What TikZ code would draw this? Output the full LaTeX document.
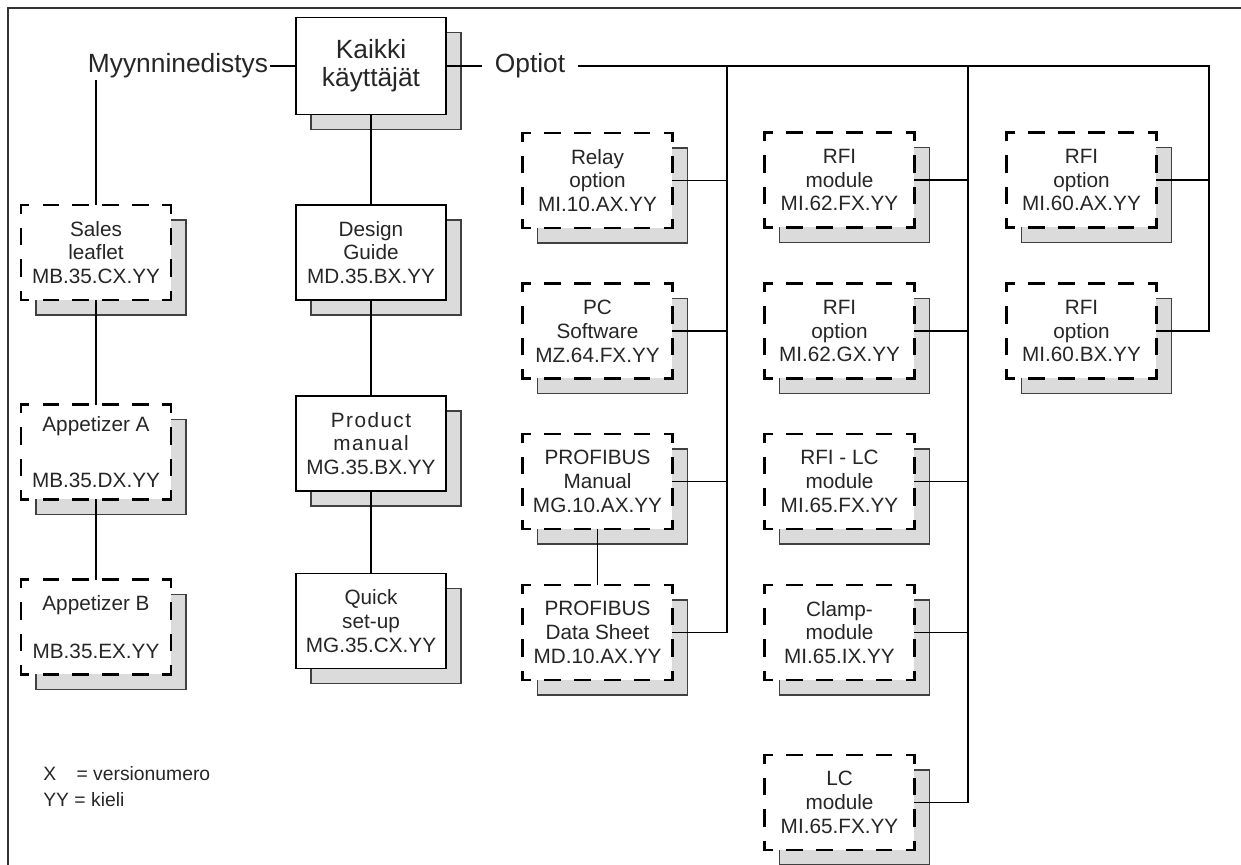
\documentclass[tikz,border=0pt]{standalone}
\usepackage{fontspec}
\setmainfont{Liberation Sans}
\usetikzlibrary{shadows}

\newcommand{\wide}[1]{{\addfontfeature{LetterSpace=7}#1}}

\begin{document}
\begin{tikzpicture}[x=0.02cm,y=-0.02cm]
  \tikzset{manual/.style = {shape=rectangle,draw,fill=white,line width=0.75pt,minimum width=3cm,minimum height=1.9cm,inner sep=1pt,align=center,text=black!85,font=\fontsize{11.8}{13.6}\selectfont,copy shadow={shadow xshift=0.3cm,shadow yshift=-0.3cm,fill=black!14,draw=black!75,solid,line width=0.6pt}}}
  \tikzset{dashtb/.style = {draw=black,line width=1.5pt,line cap=rect,dash pattern=on 8pt off 9.01pt,dash phase=4pt}}
  \tikzset{dashlr/.style = {draw=black,line width=1.5pt,line cap=rect,dash pattern=on 8.5pt off 9.45pt,dash phase=4.25pt}}
  \tikzset{option/.style = {manual,draw=none,outer sep=0pt,append after command={\pgfextra{\let\optnode\tikzlastnode}
    (\optnode.north west) edge[dashtb] (\optnode.north east)
    (\optnode.south west) edge[dashtb] (\optnode.south east)
    (\optnode.north west) edge[dashlr] (\optnode.south west)
    (\optnode.north east) edge[dashlr] (\optnode.south east)}}}
  \tikzset{title/.style = {text=black!85,font=\fontsize{15}{16}\selectfont,inner sep=1pt}}
  \tikzset{link/.style = {line width=0.6pt}}

  \useasboundingbox (0,0) rectangle (1241,865);
  \draw[line width=0.9pt,black!80] (1241,8) -- (8,8) -- (8,865);

	\node[manual,minimum height=1.94cm,font=\fontsize{15}{16}\selectfont] (all) at (371,66) {Kaikki\\käyttäjät};
	\node[title] (myyn) at (178,66) {Myynninedistys};
	\node[title,inner xsep=7pt] (optiot) at (530,66) {Optiot};

	% myynninedistys
	\node[option] (sales) at (96,252.5) {Sales\\leaflet\\MB.35.CX.YY};
	\node[option] (appa) at (96,452) {Appetizer A\\[5pt] \\MB.35.DX.YY};
	\node[option] (appb) at (96,627) {Appetizer B\\ \\MB.35.EX.YY};

	% kaikki kayttajat
	\node[manual] (design) at (371,252.5) {Design\\Guide\\MD.35.BX.YY};
	\node[manual] (product) at (371,443.5) {\wide{Product}\\\wide{manual}\\MG.35.BX.YY};
	\node[manual] (quick) at (371,621) {Quick\\set-up\\MG.35.CX.YY};

	% optiot
	\node[option] (relay) at (597.5,180.5) {Relay\\option\\MI.10.AX.YY};
	\node[option] (pc) at (597.5,331) {PC\\Software\\MZ.64.FX.YY};
	\node[option] (pman) at (597.5,481.5) {PROFIBUS\\Manual\\MG.10.AX.YY};
	\node[option] (pdata) at (597.5,632.5) {PROFIBUS\\Data Sheet\\MD.10.AX.YY};

	\node[option] (rfim) at (839.5,180) {RFI\\module\\MI.62.FX.YY};
	\node[option] (rfio) at (839.5,331) {RFI\\option\\MI.62.GX.YY};
	\node[option] (rfilc) at (839.5,481.5) {RFI - LC\\module\\MI.65.FX.YY};
	\node[option] (clamp) at (839.5,632.5) {Clamp-\\module\\MI.65.IX.YY};
	\node[option] (lc) at (839.5,802.5) {LC\\module\\MI.65.FX.YY};

	\node[option] (rfia) at (1081.5,180) {RFI\\option\\MI.60.AX.YY};
	\node[option] (rfib) at (1081.5,331) {RFI\\option\\MI.60.BX.YY};

	\node[anchor=north west,inner sep=0pt,align=left,text=black!85,font=\fontsize{11}{14.7}\selectfont] (legend) at (43,766) {X\hspace{1.05em}= versionumero\\YY = kieli};

	\coordinate (busA) at (727,66);
	\coordinate (busB) at (968,66);
	\coordinate (busC) at (1209,66);

	\draw[link] (myyn.east) -- (myyn.east -| all.west);
	\draw[link] (all.east) -- (optiot.west);
	\draw[link] (myyn.south -| sales.north) -- (sales.north);
	\draw[link] (optiot.east) -- (busC) |- (rfib.east);
	\draw[link] (busA) |- (pdata.east);
	\draw[link] (busB) |- (lc.east);

       \foreach \from/\to in {all/design, design/product, product/quick, sales/appa, appa/appb, pman/pdata}
    \draw[link] (\from.south) -- (\to.north);
       \foreach \from/\to in {relay/busA, pc/busA, pman/busA, rfim/busB, rfio/busB, rfilc/busB, clamp/busB, rfia/busC}
    \draw[link] (\from.east) -- (\from.east -| \to);
\end{tikzpicture}
\end{document}
